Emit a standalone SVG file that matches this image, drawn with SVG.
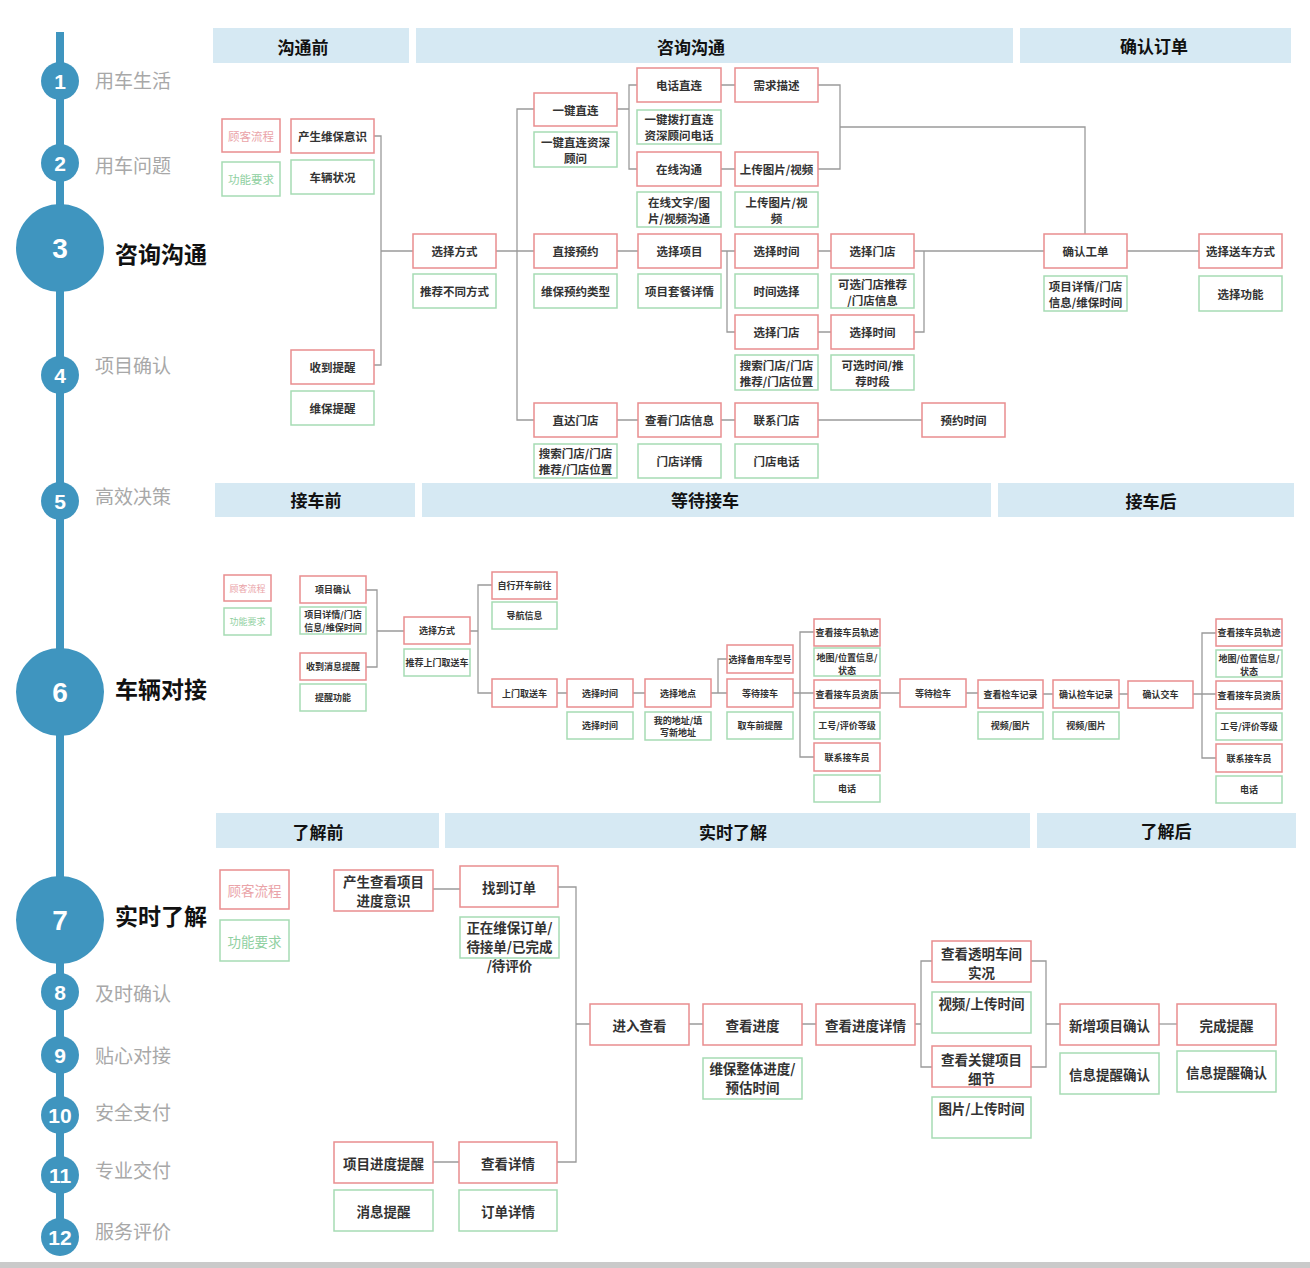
<svg xmlns="http://www.w3.org/2000/svg" width="1310" height="1268" viewBox="0 0 1310 1268">
<style>
.r{fill:#fff;stroke:#e98d8f;stroke-width:1.5}
.g{fill:#fff;stroke:#a6dbb4;stroke-width:1.5}
.t{font-family:"Noto Sans CJK SC","Noto Sans",sans-serif;font-weight:bold;fill:#333;text-anchor:middle;dominant-baseline:central}
.s1{font-size:11.5px}.s2{font-size:9px}.s3{font-size:13.5px}
.pk{fill:#eaa3a8;font-weight:normal}.gn{fill:#8fd0a1;font-weight:normal}
.hd{fill:#d6e9f3}
.ht{font-size:17px;fill:#111}
.ln{fill:none;stroke:#9a9a9a;stroke-width:1.3}
.tc{fill:#3f95bf}
.num{font-family:"Liberation Sans",Arial,sans-serif;font-weight:bold;fill:#fff;text-anchor:middle;dominant-baseline:central}
.tl{font-family:"Noto Sans CJK SC","Noto Sans",sans-serif;font-size:19px;fill:#a8a8a8;dominant-baseline:central}
.tb{font-family:"Noto Sans CJK SC","Noto Sans",sans-serif;font-size:23px;font-weight:bold;fill:#111;dominant-baseline:central}
</style>
<rect x="0" y="0" width="1310" height="1268" fill="#fff"/>
<rect x="0" y="1262" width="1310" height="6" fill="#cacaca"/>

<!-- timeline -->
<g id="timeline">
<rect class="tc" x="56" y="32" width="8" height="1215"/>
<ellipse class="tc" cx="60" cy="81" rx="19" ry="19"/><text class="num" x="60" y="81" font-size="21">1</text><text class="tl" x="95" y="79">用车生活</text>
<ellipse class="tc" cx="60" cy="163" rx="19" ry="19"/><text class="num" x="60" y="163" font-size="21">2</text><text class="tl" x="95" y="164">用车问题</text>
<ellipse class="tc" cx="60" cy="248" rx="44" ry="44"/><text class="num" x="60" y="248" font-size="28">3</text><text class="tb" x="115" y="253">咨询沟通</text>
<ellipse class="tc" cx="60" cy="375" rx="19" ry="19"/><text class="num" x="60" y="375" font-size="21">4</text><text class="tl" x="95" y="364">项目确认</text>
<ellipse class="tc" cx="60" cy="501" rx="19" ry="19"/><text class="num" x="60" y="501" font-size="21">5</text><text class="tl" x="95" y="495">高效决策</text>
<ellipse class="tc" cx="60" cy="692" rx="44" ry="44"/><text class="num" x="60" y="692" font-size="28">6</text><text class="tb" x="115" y="688">车辆对接</text>
<ellipse class="tc" cx="60" cy="920" rx="44" ry="44"/><text class="num" x="60" y="920" font-size="28">7</text><text class="tb" x="115" y="915">实时了解</text>
<ellipse class="tc" cx="60" cy="992" rx="19" ry="19"/><text class="num" x="60" y="992" font-size="21">8</text><text class="tl" x="95" y="992">及时确认</text>
<ellipse class="tc" cx="60" cy="1055" rx="19" ry="19"/><text class="num" x="60" y="1055" font-size="21">9</text><text class="tl" x="95" y="1054">贴心对接</text>
<ellipse class="tc" cx="60" cy="1115" rx="19" ry="19"/><text class="num" x="60" y="1115" font-size="21">10</text><text class="tl" x="95" y="1111">安全支付</text>
<ellipse class="tc" cx="60" cy="1175" rx="19" ry="19"/><text class="num" x="60" y="1175" font-size="21">11</text><text class="tl" x="95" y="1169">专业交付</text>
<ellipse class="tc" cx="60" cy="1237" rx="19" ry="19"/><text class="num" x="60" y="1237" font-size="21">12</text><text class="tl" x="95" y="1230">服务评价</text>
</g>

<!-- headers -->
<g id="headers">
<rect class="hd" x="213" y="28" width="196" height="35"/><text class="t ht" x="303" y="46">沟通前</text>
<rect class="hd" x="416" y="28" width="597" height="35"/><text class="t ht" x="691" y="46">咨询沟通</text>
<rect class="hd" x="1020" y="28" width="271" height="35"/><text class="t ht" x="1154" y="45">确认订单</text>
<rect class="hd" x="215" y="483" width="200" height="34"/><text class="t ht" x="316" y="499">接车前</text>
<rect class="hd" x="422" y="483" width="569" height="34"/><text class="t ht" x="705" y="499">等待接车</text>
<rect class="hd" x="998" y="483" width="296" height="34"/><text class="t ht" x="1151" y="500">接车后</text>
<rect class="hd" x="216" y="813" width="223" height="35"/><text class="t ht" x="318" y="831">了解前</text>
<rect class="hd" x="445" y="813" width="585" height="35"/><text class="t ht" x="733" y="831">实时了解</text>
<rect class="hd" x="1037" y="813" width="259" height="35"/><text class="t ht" x="1166" y="830">了解后</text>
</g>

<!-- connectors -->
<g id="connectors" class="ln">
<path d="M374,136H381V365H374M381,251H413"/>
<path d="M496,251H534M534,109H517V420H534"/>
<path d="M617,109H629M637,85H629V169H637"/>
<path d="M721,85H735M721,169H735"/>
<path d="M818,85H840V169H818M840,127H1085V234"/>
<path d="M617,251H638M721,251H735M727,251V332H735"/>
<path d="M818,251H831M818,332H831"/>
<path d="M914,251H924V332H914M924,251H1044"/>
<path d="M1127,251H1199"/>
<path d="M617,420H638M721,420H735M818,420H922"/>
<path d="M366,590H377V667H366M377,631H404"/>
<path d="M470,631H478M492,585H478V693H492"/>
<path d="M557,693H567M633,693H645"/>
<path d="M711,693H718M727,659H718V693H727"/>
<path d="M793,693H800M814,632H800V757H814M800,693H814"/>
<path d="M880,693H900M966,693H978M1043,694H1053M1119,694H1128"/>
<path d="M1193,694H1202M1216,633H1202V758H1216M1202,694H1216"/>
<path d="M433,889H460M433,1162H459"/>
<path d="M558,887H576V1162H557M576,1024H590"/>
<path d="M689,1024H703M802,1024H816"/>
<path d="M915,1024H921M932,961H921V1067H932"/>
<path d="M1031,961H1046V1067H1031M1046,1024H1060"/>
<path d="M1159,1024H1177"/>
</g>

<!-- TOP SECTION -->
<g id="legend-red-1"><rect class="r" x="222" y="119" width="58" height="33"/><text class="t s1 pk" x="251" y="136">顾客流程</text></g>
<g id="legend-green-1"><rect class="g" x="222" y="162" width="58" height="34"/><text class="t s1 gn" x="251" y="179">功能要求</text></g>
<g id="n-chansheng"><rect class="r" x="291" y="119" width="83" height="34"/><text class="t s1" x="332.5" y="136">产生维保意识</text></g>
<g id="n-cheliang"><rect class="g" x="291" y="160" width="83" height="34"/><text class="t s1" x="332.5" y="177">车辆状况</text></g>
<g id="n-shoudao"><rect class="r" x="291" y="350" width="83" height="34"/><text class="t s1" x="332.5" y="367">收到提醒</text></g>
<g id="n-weibaotixing"><rect class="g" x="291" y="391" width="83" height="34"/><text class="t s1" x="332.5" y="408">维保提醒</text></g>
<g id="n-xuanzefangshi"><rect class="r" x="413" y="234" width="83" height="34"/><text class="t s1" x="454.5" y="251">选择方式</text></g>
<g id="n-tuijian"><rect class="g" x="413" y="274" width="83" height="34"/><text class="t s1" x="454.5" y="291">推荐不同方式</text></g>
<g id="n-yijian"><rect class="r" x="534" y="93" width="83" height="33"/><text class="t s1" x="575.5" y="109.5">一键直连</text></g>
<g id="n-yijianzx"><rect class="g" x="534" y="132" width="83" height="35"/><text class="t s1" x="575.5" y="142">一键直连资深</text><text class="t s1" x="575.5" y="158">顾问</text></g>
<g id="n-zhijieyy"><rect class="r" x="534" y="234" width="83" height="34"/><text class="t s1" x="575.5" y="251">直接预约</text></g>
<g id="n-weibaoyy"><rect class="g" x="534" y="274" width="83" height="34"/><text class="t s1" x="575.5" y="291">维保预约类型</text></g>
<g id="n-zhidamd"><rect class="r" x="534" y="403" width="83" height="34"/><text class="t s1" x="575.5" y="420">直达门店</text></g>
<g id="n-sousuo1"><rect class="g" x="534" y="444" width="83" height="34"/><text class="t s1" x="575.5" y="453">搜索门店/门店</text><text class="t s1" x="575.5" y="469">推荐/门店位置</text></g>
<g id="n-dianhua"><rect class="r" x="637" y="68" width="84" height="34"/><text class="t s1" x="679" y="85">电话直连</text></g>
<g id="n-xuqiu"><rect class="r" x="735" y="68" width="83" height="34"/><text class="t s1" x="776.5" y="85">需求描述</text></g>
<g id="n-yijianbd"><rect class="g" x="637" y="110" width="84" height="34"/><text class="t s1" x="679" y="119">一键拨打直连</text><text class="t s1" x="679" y="135">资深顾问电话</text></g>
<g id="n-zaixian"><rect class="r" x="637" y="152" width="84" height="34"/><text class="t s1" x="679" y="169">在线沟通</text></g>
<g id="n-shangchuan"><rect class="r" x="735" y="152" width="83" height="34"/><text class="t s1" x="776.5" y="169">上传图片/视频</text></g>
<g id="n-zaixianwz"><rect class="g" x="637" y="192" width="84" height="35"/><text class="t s1" x="679" y="202">在线文字/图</text><text class="t s1" x="679" y="218">片/视频沟通</text></g>
<g id="n-shangchuan2"><rect class="g" x="735" y="192" width="83" height="35"/><text class="t s1" x="776.5" y="202">上传图片/视</text><text class="t s1" x="776.5" y="218">频</text></g>
<g id="n-xuanzexm"><rect class="r" x="638" y="234" width="83" height="34"/><text class="t s1" x="679.5" y="251">选择项目</text></g>
<g id="n-taocan"><rect class="g" x="638" y="274" width="83" height="34"/><text class="t s1" x="679.5" y="291">项目套餐详情</text></g>
<g id="n-xuanzesj1"><rect class="r" x="735" y="234" width="83" height="34"/><text class="t s1" x="776.5" y="251">选择时间</text></g>
<g id="n-shijianxz"><rect class="g" x="735" y="274" width="83" height="34"/><text class="t s1" x="776.5" y="291">时间选择</text></g>
<g id="n-xuanzemd1"><rect class="r" x="831" y="234" width="83" height="34"/><text class="t s1" x="872.5" y="251">选择门店</text></g>
<g id="n-kexuanmd"><rect class="g" x="831" y="274" width="83" height="34"/><text class="t s1" x="872.5" y="284">可选门店推荐</text><text class="t s1" x="872.5" y="300">/门店信息</text></g>
<g id="n-xuanzemd2"><rect class="r" x="735" y="315" width="83" height="34"/><text class="t s1" x="776.5" y="332">选择门店</text></g>
<g id="n-sousuo2"><rect class="g" x="735" y="355" width="83" height="35"/><text class="t s1" x="776.5" y="365">搜索门店/门店</text><text class="t s1" x="776.5" y="381">推荐/门店位置</text></g>
<g id="n-xuanzesj2"><rect class="r" x="831" y="315" width="83" height="34"/><text class="t s1" x="872.5" y="332">选择时间</text></g>
<g id="n-kexuansj"><rect class="g" x="831" y="355" width="83" height="35"/><text class="t s1" x="872.5" y="365">可选时间/推</text><text class="t s1" x="872.5" y="381">荐时段</text></g>
<g id="n-chakanmd"><rect class="r" x="638" y="403" width="83" height="34"/><text class="t s1" x="679.5" y="420">查看门店信息</text></g>
<g id="n-mdxq"><rect class="g" x="638" y="444" width="83" height="34"/><text class="t s1" x="679.5" y="461">门店详情</text></g>
<g id="n-lianximd"><rect class="r" x="735" y="403" width="83" height="34"/><text class="t s1" x="776.5" y="420">联系门店</text></g>
<g id="n-mddh"><rect class="g" x="735" y="444" width="83" height="34"/><text class="t s1" x="776.5" y="461">门店电话</text></g>
<g id="n-yuyuesj"><rect class="r" x="922" y="403" width="83" height="34"/><text class="t s1" x="963.5" y="420">预约时间</text></g>
<g id="n-querengd"><rect class="r" x="1044" y="234" width="83" height="34"/><text class="t s1" x="1085.5" y="251">确认工单</text></g>
<g id="n-xmxq"><rect class="g" x="1044" y="276" width="83" height="35"/><text class="t s1" x="1085.5" y="286">项目详情/门店</text><text class="t s1" x="1085.5" y="302">信息/维保时间</text></g>
<g id="n-songche"><rect class="r" x="1199" y="234" width="83" height="34"/><text class="t s1" x="1240.5" y="251">选择送车方式</text></g>
<g id="n-xuanzegn"><rect class="g" x="1199" y="276" width="83" height="35"/><text class="t s1" x="1240.5" y="294">选择功能</text></g>

<!-- MIDDLE SECTION -->
<g id="legend-red-2"><rect class="r" x="224" y="575" width="47" height="26"/><text class="t s2 pk" x="247.5" y="588">顾客流程</text></g>
<g id="legend-green-2"><rect class="g" x="224" y="608" width="47" height="27"/><text class="t s2 gn" x="247.5" y="621.5">功能要求</text></g>
<g id="m-xmqr"><rect class="r" x="300" y="576" width="66" height="27"/><text class="t s2" x="333" y="589.5">项目确认</text></g>
<g id="m-xmxq"><rect class="g" x="300" y="607" width="66" height="27"/><text class="t s2" x="333" y="614.5">项目详情/门店</text><text class="t s2" x="333" y="627">信息/维保时间</text></g>
<g id="m-shoudaoxx"><rect class="r" x="300" y="653" width="66" height="27"/><text class="t s2" x="333" y="666.5">收到消息提醒</text></g>
<g id="m-txgn"><rect class="g" x="300" y="684" width="66" height="27"/><text class="t s2" x="333" y="697.5">提醒功能</text></g>
<g id="m-xzfs"><rect class="r" x="404" y="617" width="66" height="27"/><text class="t s2" x="437" y="630.5">选择方式</text></g>
<g id="m-tjsm"><rect class="g" x="404" y="649" width="66" height="27"/><text class="t s2" x="437" y="662.5">推荐上门取送车</text></g>
<g id="m-zxkc"><rect class="r" x="492" y="572" width="65" height="27"/><text class="t s2" x="524.5" y="585.5">自行开车前往</text></g>
<g id="m-dhxx"><rect class="g" x="492" y="602" width="65" height="27"/><text class="t s2" x="524.5" y="615.5">导航信息</text></g>
<g id="m-smqs"><rect class="r" x="492" y="679" width="65" height="28"/><text class="t s2" x="524.5" y="693">上门取送车</text></g>
<g id="m-xzsj"><rect class="r" x="567" y="679" width="66" height="28"/><text class="t s2" x="600" y="693">选择时间</text></g>
<g id="m-xzsjg"><rect class="g" x="567" y="712" width="66" height="27"/><text class="t s2" x="600" y="725.5">选择时间</text></g>
<g id="m-xzdd"><rect class="r" x="645" y="679" width="66" height="28"/><text class="t s2" x="678" y="693">选择地点</text></g>
<g id="m-wddz"><rect class="g" x="645" y="712" width="66" height="28"/><text class="t s2" x="678" y="720">我的地址/填</text><text class="t s2" x="678" y="732.5">写新地址</text></g>
<g id="m-byc"><rect class="r" x="727" y="645" width="66" height="28"/><text class="t s2" x="760" y="659">选择备用车型号</text></g>
<g id="m-ddjc"><rect class="r" x="727" y="679" width="66" height="28"/><text class="t s2" x="760" y="693">等待接车</text></g>
<g id="m-qctx"><rect class="g" x="727" y="712" width="66" height="27"/><text class="t s2" x="760" y="725.5">取车前提醒</text></g>
<g id="m-gj1"><rect class="r" x="814" y="619" width="66" height="27"/><text class="t s2" x="847" y="632.5">查看接车员轨迹</text></g>
<g id="m-dt1"><rect class="g" x="814" y="648" width="66" height="28"/><text class="t s2" x="847" y="657">地图/位置信息/</text><text class="t s2" x="847" y="670">状态</text></g>
<g id="m-zz1"><rect class="r" x="814" y="680" width="66" height="28"/><text class="t s2" x="847" y="694">查看接车员资质</text></g>
<g id="m-gh1"><rect class="g" x="814" y="712" width="66" height="27"/><text class="t s2" x="847" y="725.5">工号/评价等级</text></g>
<g id="m-lx1"><rect class="r" x="814" y="743" width="66" height="28"/><text class="t s2" x="847" y="757">联系接车员</text></g>
<g id="m-dh1"><rect class="g" x="814" y="775" width="66" height="27"/><text class="t s2" x="847" y="788.5">电话</text></g>
<g id="m-ddjc2"><rect class="r" x="900" y="679" width="66" height="28"/><text class="t s2" x="933" y="693">等待检车</text></g>
<g id="m-ckjc"><rect class="r" x="978" y="680" width="65" height="28"/><text class="t s2" x="1010.5" y="694">查看检车记录</text></g>
<g id="m-sp1"><rect class="g" x="978" y="712" width="65" height="27"/><text class="t s2" x="1010.5" y="725.5">视频/图片</text></g>
<g id="m-qrjc"><rect class="r" x="1053" y="680" width="66" height="28"/><text class="t s2" x="1086" y="694">确认检车记录</text></g>
<g id="m-sp2"><rect class="g" x="1053" y="712" width="66" height="27"/><text class="t s2" x="1086" y="725.5">视频/图片</text></g>
<g id="m-qrjcar"><rect class="r" x="1128" y="681" width="65" height="27"/><text class="t s2" x="1160.5" y="694.5">确认交车</text></g>
<g id="m-gj2"><rect class="r" x="1216" y="619" width="66" height="27"/><text class="t s2" x="1249" y="632.5">查看接车员轨迹</text></g>
<g id="m-dt2"><rect class="g" x="1216" y="650" width="66" height="27"/><text class="t s2" x="1249" y="658.5">地图/位置信息/</text><text class="t s2" x="1249" y="671">状态</text></g>
<g id="m-zz2"><rect class="r" x="1216" y="681" width="66" height="28"/><text class="t s2" x="1249" y="695">查看接车员资质</text></g>
<g id="m-gh2"><rect class="g" x="1216" y="713" width="66" height="27"/><text class="t s2" x="1249" y="726.5">工号/评价等级</text></g>
<g id="m-lx2"><rect class="r" x="1216" y="744" width="66" height="28"/><text class="t s2" x="1249" y="758">联系接车员</text></g>
<g id="m-dh2"><rect class="g" x="1216" y="776" width="66" height="27"/><text class="t s2" x="1249" y="789.5">电话</text></g>

<!-- BOTTOM SECTION -->
<g id="legend-red-3"><rect class="r" x="220" y="870" width="69" height="39"/><text class="t s3 pk" x="254.5" y="889.5">顾客流程</text></g>
<g id="legend-green-3"><rect class="g" x="220" y="920" width="69" height="41"/><text class="t s3 gn" x="254.5" y="940.5">功能要求</text></g>
<g id="b-cs"><rect class="r" x="334" y="870" width="99" height="41"/><text class="t s3" x="383.5" y="881">产生查看项目</text><text class="t s3" x="383.5" y="900">进度意识</text></g>
<g id="b-zddd"><rect class="r" x="460" y="866" width="98" height="41"/><text class="t s3" x="509" y="886.5">找到订单</text></g>
<g id="b-zzwb"><rect class="g" x="460" y="917" width="99" height="41"/><text class="t s3" x="509.5" y="927">正在维保订单/</text><text class="t s3" x="509.5" y="946">待接单/已完成</text><text class="t s3" x="509.5" y="965">/待评价</text></g>
<g id="b-xmjdtx"><rect class="r" x="334" y="1142" width="99" height="41"/><text class="t s3" x="383.5" y="1162.5">项目进度提醒</text></g>
<g id="b-xxtx"><rect class="g" x="334" y="1190" width="99" height="41"/><text class="t s3" x="383.5" y="1210.5">消息提醒</text></g>
<g id="b-ckxq"><rect class="r" x="459" y="1142" width="98" height="41"/><text class="t s3" x="508" y="1162.5">查看详情</text></g>
<g id="b-ddxq"><rect class="g" x="459" y="1190" width="98" height="41"/><text class="t s3" x="508" y="1210.5">订单详情</text></g>
<g id="b-jrck"><rect class="r" x="590" y="1004" width="99" height="41"/><text class="t s3" x="639.5" y="1024.5">进入查看</text></g>
<g id="b-ckjd"><rect class="r" x="703" y="1004" width="99" height="41"/><text class="t s3" x="752.5" y="1024.5">查看进度</text></g>
<g id="b-wbzt"><rect class="g" x="703" y="1058" width="99" height="41"/><text class="t s3" x="752.5" y="1068">维保整体进度/</text><text class="t s3" x="752.5" y="1087">预估时间</text></g>
<g id="b-ckjdxq"><rect class="r" x="816" y="1004" width="99" height="41"/><text class="t s3" x="865.5" y="1024.5">查看进度详情</text></g>
<g id="b-tmcj"><rect class="r" x="932" y="941" width="99" height="41"/><text class="t s3" x="981.5" y="953">查看透明车间</text><text class="t s3" x="981.5" y="972">实况</text></g>
<g id="b-sp"><rect class="g" x="932" y="992" width="99" height="41"/><text class="t s3" x="981.5" y="1003">视频/上传时间</text></g>
<g id="b-gjxm"><rect class="r" x="932" y="1046" width="99" height="41"/><text class="t s3" x="981.5" y="1059">查看关键项目</text><text class="t s3" x="981.5" y="1078">细节</text></g>
<g id="b-tp"><rect class="g" x="932" y="1097" width="99" height="41"/><text class="t s3" x="981.5" y="1108">图片/上传时间</text></g>
<g id="b-xzxm"><rect class="r" x="1060" y="1004" width="99" height="41"/><text class="t s3" x="1109.5" y="1024.5">新增项目确认</text></g>
<g id="b-xxqr1"><rect class="g" x="1060" y="1053" width="99" height="41"/><text class="t s3" x="1109.5" y="1073.5">信息提醒确认</text></g>
<g id="b-wctx"><rect class="r" x="1177" y="1004" width="99" height="41"/><text class="t s3" x="1226.5" y="1024.5">完成提醒</text></g>
<g id="b-xxqr2"><rect class="g" x="1177" y="1051" width="99" height="41"/><text class="t s3" x="1226.5" y="1071.5">信息提醒确认</text></g>
</svg>
